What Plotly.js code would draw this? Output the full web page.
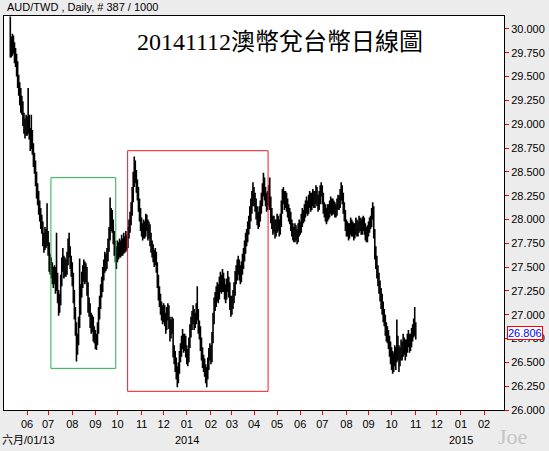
<!DOCTYPE html>
<html>
<head>
<meta charset="utf-8">
<script src="https://cdn.plot.ly/plotly-3.0.1.min.js"></script>
<style>
html,body{margin:0;padding:0;background:#ececec;}
#chart{width:549px;height:451px;}
</style>
</head>
<body>
<div id="chart"></div>
<script>
// ---- data (daily AUD/TWD) ----
const firstDate = '2013-05-10';
const openP = [
29.95,29.85,29.78,29.88,29.80,29.72,29.68,29.60,29.45,29.38,
29.30,29.22,29.18,29.05,28.98,28.92,29.02,28.95,29.05,28.90,
28.80,28.88,28.75,28.62,28.55,28.42,28.30,28.22,28.12,28.05,
27.98,27.92,27.80,27.72,27.85,27.78,27.82,27.70,27.58,27.52,
27.48,27.42,27.38,27.45,27.30,27.38,27.20,27.08,27.15,27.35,
27.50,27.55,27.45,27.52,27.48,27.58,27.70,27.65,27.55,27.48,
27.38,27.20,27.02,26.85,26.65,26.72,26.92,27.05,27.25,27.35,
27.42,27.50,27.40,27.45,27.28,27.10,27.05,26.95,26.88,26.92,
26.80,26.78,26.70,26.72,26.85,27.00,27.12,27.25,27.30,27.42,
27.50,27.58,27.55,27.62,27.72,27.85,27.95,28.05,27.95,27.82,
27.72,27.65,27.60,27.70,27.65,27.72,27.68,27.75,27.70,27.78,
27.72,27.80,27.75,27.85,27.92,28.00,28.10,28.25,28.40,28.55,
28.45,28.35,28.28,28.15,28.05,27.95,27.90,27.85,27.92,27.88,
27.98,27.95,27.85,27.90,27.80,27.72,27.68,27.62,27.58,27.62,
27.50,27.35,27.22,27.15,27.08,27.02,26.98,27.05,26.95,26.88,
27.00,27.05,26.92,26.80,26.88,26.90,26.60,26.55,26.48,26.40,
26.32,26.42,26.55,26.62,26.70,26.75,26.68,26.72,26.62,26.58,
26.55,26.70,26.82,26.90,26.95,27.00,26.92,26.95,27.05,27.00,
26.88,26.82,26.70,26.60,26.52,26.48,26.42,26.35,26.38,26.48,
26.58,26.62,26.55,26.75,26.95,27.10,27.15,27.20,27.25,27.22,
27.30,27.35,27.30,27.38,27.32,27.25,27.22,27.30,27.35,27.28,
27.15,27.08,27.12,27.18,27.25,27.38,27.42,27.48,27.52,27.45,
27.40,27.48,27.55,27.62,27.70,27.78,27.82,27.90,27.95,28.05,
28.12,28.20,28.28,28.22,28.15,28.08,28.02,27.98,28.05,28.12,
28.20,28.30,28.38,28.28,28.22,28.15,28.20,28.28,28.18,28.05,
27.98,27.92,27.95,27.88,27.92,27.98,27.95,27.90,27.98,28.12,
28.22,28.25,28.18,28.22,28.15,28.10,28.05,28.02,27.95,27.90,
27.85,27.82,27.88,27.85,27.80,27.88,27.92,27.90,27.98,28.05,
28.02,28.08,28.12,28.15,28.10,28.18,28.22,28.15,28.20,28.25,
28.18,28.22,28.28,28.20,28.15,28.22,28.30,28.32,28.22,28.12,
28.10,28.05,28.02,28.10,28.08,28.12,28.18,28.10,28.15,28.12,
28.08,28.10,28.15,28.20,28.18,28.25,28.32,28.22,28.12,28.05,
27.95,27.88,27.92,27.85,27.90,27.95,27.88,27.92,27.85,27.90,
27.95,27.88,27.92,27.98,27.95,27.90,27.95,27.98,27.90,27.85,
27.82,27.88,27.92,27.95,27.98,28.05,28.10,27.85,27.65,27.55,
27.45,27.38,27.30,27.22,27.15,27.08,27.00,26.95,26.85,26.80,
26.78,26.72,26.65,26.60,26.55,26.48,26.52,26.60,26.55,26.72,
26.62,26.52,26.58,26.65,26.62,26.70,26.68,26.62,26.65,26.72,
26.75,26.68,26.72,26.78,26.82,26.88,26.85
];
const highP = [
30.13,29.92,29.95,29.93,29.86,29.80,29.74,29.66,29.52,29.44,
29.38,29.30,29.24,29.12,29.06,29.10,29.08,29.38,29.10,28.96,
29.10,28.94,28.80,28.70,28.62,28.50,28.38,28.30,28.20,28.12,
28.05,27.98,27.86,27.92,27.90,28.17,27.88,27.76,27.64,27.60,
27.55,27.50,27.52,27.50,27.86,27.44,27.26,27.22,27.42,27.60,
27.70,27.62,27.60,27.58,27.66,27.80,27.86,27.72,27.62,27.55,
27.44,27.26,27.08,26.92,26.80,26.98,27.59,27.32,27.45,27.52,
27.58,27.56,27.54,27.50,27.34,27.18,27.12,27.02,27.00,26.98,
26.88,26.84,26.80,26.92,27.08,27.20,27.32,27.40,27.50,27.58,
27.66,27.64,27.70,27.80,27.92,28.23,28.12,28.10,28.00,27.88,
27.78,27.72,27.78,27.76,27.80,27.78,27.84,27.80,27.86,27.82,
27.88,27.84,27.92,28.00,28.08,28.18,28.34,28.50,28.66,28.62,
28.52,28.42,28.34,28.22,28.12,28.02,27.96,28.00,27.98,28.06,
28.05,28.00,27.98,27.95,27.86,27.78,27.74,27.68,27.70,27.66,
27.55,27.42,27.30,27.22,27.14,27.10,27.12,27.10,27.02,27.08,
27.12,27.10,26.98,26.95,26.98,26.96,26.68,26.62,26.55,26.46,
26.50,26.62,26.70,26.78,26.85,26.80,26.80,26.78,26.68,26.64,
26.76,26.90,26.98,27.04,27.10,27.06,27.02,27.12,27.30,27.06,
26.94,26.88,26.76,26.66,26.58,26.54,26.48,26.45,26.55,26.65,
26.70,26.68,26.82,27.02,27.18,27.24,27.30,27.34,27.32,27.40,
27.45,27.42,27.48,27.44,27.38,27.32,27.38,27.46,27.40,27.34,
27.20,27.20,27.26,27.34,27.46,27.52,27.58,27.62,27.58,27.52,
27.56,27.64,27.70,27.78,27.86,27.90,27.98,28.04,28.14,28.22,
28.30,28.39,28.34,28.28,28.22,28.14,28.08,28.14,28.20,28.28,
28.38,28.49,28.44,28.34,28.28,28.30,28.36,28.44,28.24,28.12,
28.04,28.04,28.00,28.00,28.06,28.04,28.00,28.06,28.20,28.32,
28.34,28.30,28.30,28.28,28.22,28.16,28.12,28.08,28.00,27.96,
27.92,27.96,27.94,27.90,27.96,28.00,27.98,28.06,28.12,28.10,
28.16,28.20,28.24,28.20,28.26,28.30,28.28,28.28,28.32,28.30,
28.30,28.36,28.34,28.26,28.30,28.36,28.39,28.36,28.28,28.18,
28.16,28.12,28.16,28.16,28.20,28.24,28.22,28.22,28.20,28.18,
28.16,28.22,28.26,28.25,28.32,28.39,28.36,28.28,28.18,28.10,
28.00,27.98,27.96,27.96,28.02,28.00,27.98,27.96,27.96,28.02,
28.00,27.98,28.04,28.02,28.00,28.02,28.04,28.02,27.96,27.92,
27.94,27.98,28.02,28.04,28.12,28.18,28.14,27.90,27.72,27.62,
27.52,27.44,27.36,27.28,27.22,27.14,27.06,27.00,26.92,26.88,
26.84,26.78,26.72,26.66,26.62,26.60,26.68,26.66,26.95,26.78,
26.68,26.66,26.74,26.72,26.80,26.76,26.74,26.74,26.80,26.84,
26.80,26.80,26.86,26.90,26.96,27.08,26.92
];
const lowP = [
29.70,29.70,29.72,29.74,29.64,29.60,29.50,29.38,29.30,29.20,
29.12,29.10,28.98,28.90,28.85,28.88,28.88,28.90,28.84,28.72,
28.74,28.68,28.55,28.48,28.35,28.22,28.15,28.05,27.98,27.90,
27.85,27.72,27.65,27.68,27.70,27.72,27.62,27.45,27.42,27.38,
27.32,27.28,27.32,27.22,27.25,27.12,26.99,27.02,27.10,27.30,
27.45,27.38,27.40,27.40,27.42,27.52,27.60,27.48,27.40,27.30,
27.12,26.95,26.78,26.51,26.58,26.68,26.86,27.00,27.18,27.28,
27.35,27.32,27.34,27.20,27.02,26.98,26.86,26.80,26.82,26.72,
26.70,26.64,26.63,26.68,26.80,26.95,27.06,27.18,27.24,27.36,
27.44,27.46,27.48,27.56,27.66,27.78,27.88,27.86,27.74,27.62,
27.55,27.48,27.55,27.58,27.60,27.60,27.62,27.62,27.64,27.65,
27.66,27.68,27.70,27.80,27.86,27.94,28.04,28.18,28.34,28.38,
28.28,28.20,28.08,27.98,27.88,27.82,27.78,27.80,27.80,27.82,
27.88,27.78,27.80,27.72,27.65,27.60,27.55,27.50,27.52,27.44,
27.28,27.15,27.08,27.00,26.94,26.90,26.92,26.88,26.80,26.84,
26.94,26.85,26.72,26.75,26.80,26.55,26.48,26.40,26.32,26.24,
26.28,26.38,26.50,26.56,26.64,26.60,26.62,26.55,26.48,26.46,
26.50,26.65,26.76,26.84,26.90,26.84,26.86,26.90,26.94,26.80,
26.74,26.62,26.52,26.44,26.40,26.35,26.28,26.24,26.32,26.42,
26.52,26.48,26.50,26.70,26.90,27.04,27.08,27.14,27.12,27.16,
27.24,27.22,27.24,27.24,27.16,27.12,27.16,27.24,27.18,27.05,
26.98,27.00,27.06,27.12,27.20,27.32,27.36,27.42,27.36,27.32,
27.34,27.42,27.48,27.56,27.64,27.72,27.76,27.84,27.90,27.98,
28.06,28.14,28.14,28.08,28.00,27.94,27.90,27.92,27.98,28.06,
28.14,28.24,28.20,28.14,28.08,28.10,28.14,28.10,27.96,27.90,
27.84,27.86,27.80,27.82,27.86,27.88,27.82,27.84,27.92,28.06,
28.16,28.10,28.12,28.08,28.02,27.98,27.95,27.88,27.82,27.78,
27.76,27.76,27.78,27.74,27.76,27.82,27.84,27.86,27.92,27.96,
27.98,28.02,28.06,28.04,28.06,28.12,28.08,28.10,28.14,28.12,
28.12,28.16,28.14,28.08,28.10,28.16,28.24,28.16,28.06,28.02,
27.98,27.95,27.98,28.00,28.02,28.06,28.04,28.05,28.06,28.02,
28.02,28.04,28.10,28.10,28.12,28.20,28.16,28.06,27.98,27.88,
27.82,27.82,27.78,27.80,27.84,27.82,27.82,27.78,27.80,27.84,
27.82,27.82,27.86,27.88,27.84,27.84,27.88,27.84,27.78,27.76,
27.76,27.82,27.86,27.90,27.92,28.00,27.80,27.58,27.48,27.38,
27.30,27.22,27.14,27.06,27.00,26.92,26.88,26.78,26.72,26.70,
26.64,26.56,26.48,26.42,26.38,26.40,26.46,26.42,26.50,26.52,
26.40,26.46,26.52,26.52,26.56,26.58,26.52,26.56,26.60,26.66,
26.60,26.62,26.66,26.72,26.76,26.78,26.74
];
const closeP = [
29.85,29.78,29.88,29.80,29.72,29.68,29.60,29.45,29.38,29.30,
29.22,29.18,29.05,28.98,28.92,29.02,28.95,29.05,28.90,28.80,
28.88,28.75,28.62,28.55,28.42,28.30,28.22,28.12,28.05,27.98,
27.92,27.80,27.72,27.85,27.78,27.82,27.70,27.58,27.52,27.48,
27.42,27.38,27.45,27.30,27.38,27.20,27.08,27.15,27.35,27.50,
27.55,27.45,27.52,27.48,27.58,27.70,27.65,27.55,27.48,27.38,
27.20,27.02,26.85,26.65,26.72,26.92,27.05,27.25,27.35,27.42,
27.50,27.40,27.45,27.28,27.10,27.05,26.95,26.88,26.92,26.80,
26.78,26.70,26.72,26.85,27.00,27.12,27.25,27.30,27.42,27.50,
27.58,27.55,27.62,27.72,27.85,27.95,28.05,27.95,27.82,27.72,
27.65,27.60,27.70,27.65,27.72,27.68,27.75,27.70,27.78,27.72,
27.80,27.75,27.85,27.92,28.00,28.10,28.25,28.40,28.55,28.45,
28.35,28.28,28.15,28.05,27.95,27.90,27.85,27.92,27.88,27.98,
27.95,27.85,27.90,27.80,27.72,27.68,27.62,27.58,27.62,27.50,
27.35,27.22,27.15,27.08,27.02,26.98,27.05,26.95,26.88,27.00,
27.05,26.92,26.80,26.88,26.90,26.60,26.55,26.48,26.40,26.32,
26.42,26.55,26.62,26.70,26.75,26.68,26.72,26.62,26.58,26.55,
26.70,26.82,26.90,26.95,27.00,26.92,26.95,27.05,27.00,26.88,
26.82,26.70,26.60,26.52,26.48,26.42,26.35,26.38,26.48,26.58,
26.62,26.55,26.75,26.95,27.10,27.15,27.20,27.25,27.22,27.30,
27.35,27.30,27.38,27.32,27.25,27.22,27.30,27.35,27.28,27.15,
27.08,27.12,27.18,27.25,27.38,27.42,27.48,27.52,27.45,27.40,
27.48,27.55,27.62,27.70,27.78,27.82,27.90,27.95,28.05,28.12,
28.20,28.28,28.22,28.15,28.08,28.02,27.98,28.05,28.12,28.20,
28.30,28.38,28.28,28.22,28.15,28.20,28.28,28.18,28.05,27.98,
27.92,27.95,27.88,27.92,27.98,27.95,27.90,27.98,28.12,28.22,
28.25,28.18,28.22,28.15,28.10,28.05,28.02,27.95,27.90,27.85,
27.82,27.88,27.85,27.80,27.88,27.92,27.90,27.98,28.05,28.02,
28.08,28.12,28.15,28.10,28.18,28.22,28.15,28.20,28.25,28.18,
28.22,28.28,28.20,28.15,28.22,28.30,28.32,28.22,28.12,28.10,
28.05,28.02,28.10,28.08,28.12,28.18,28.10,28.15,28.12,28.08,
28.10,28.15,28.20,28.18,28.25,28.32,28.22,28.12,28.05,27.95,
27.88,27.92,27.85,27.90,27.95,27.88,27.92,27.85,27.90,27.95,
27.88,27.92,27.98,27.95,27.90,27.95,27.98,27.90,27.85,27.82,
27.88,27.92,27.95,27.98,28.05,28.10,27.85,27.65,27.55,27.45,
27.38,27.30,27.22,27.15,27.08,27.00,26.95,26.85,26.80,26.78,
26.72,26.65,26.60,26.55,26.48,26.52,26.60,26.55,26.72,26.62,
26.52,26.58,26.65,26.62,26.70,26.68,26.62,26.65,26.72,26.75,
26.68,26.72,26.78,26.82,26.88,26.85,26.806
];
const monthTickDates = ['2013-06-03','2013-07-01','2013-08-01','2013-09-02','2013-10-01','2013-11-01','2013-12-02',
  '2014-01-01','2014-02-03','2014-03-03','2014-04-01','2014-05-01','2014-06-02','2014-07-01','2014-08-01',
  '2014-09-01','2014-10-01','2014-11-03','2014-12-01','2015-01-01','2015-02-02'];
const monthTickLabels = ['06','07','08','09','10','11','12','01','02','03','04','05','06','07','08','09','10','11','12','01','02'];
const headerText = 'AUD/TWD , Daily, # 387 / 1000';
const titleText = '20141112澳幣兌台幣日線圖';

// trading-day (weekday) calendar for the bars
function weekdays(start, n) {
  const out = [];
  const d = new Date(start + 'T00:00:00Z');
  while (out.length < n) {
    const w = d.getUTCDay();
    if (w !== 0 && w !== 6) out.push(d.toISOString().slice(0, 10));
    d.setUTCDate(d.getUTCDate() + 1);
  }
  return out;
}
const dates = weekdays(firstDate, closeP.length);
const lastClose = closeP[closeP.length - 1];

const trace = {
  type: 'ohlc',
  x: dates, open: openP, high: highP, low: lowP, close: closeP,
  increasing: {line: {color: '#000000', width: 1.6}},
  decreasing: {line: {color: '#000000', width: 1.6}},
  tickwidth: 0.6,
  hoverinfo: 'none',
  showlegend: false
};

const tickFont = {family: 'Liberation Sans, Arial, sans-serif', size: 11, color: '#000000'};

const layout = {
  width: 549, height: 451,
  paper_bgcolor: '#ececec', plot_bgcolor: '#ffffff',
  margin: {l: 4, r: 45, t: 16, b: 41, pad: 0},
  showlegend: false,
  title: {
    text: titleText,
    x: 280 / 549, xref: 'container', xanchor: 'center',
    y: 1 - 42 / 451, yref: 'container', yanchor: 'middle',
    font: {family: 'Liberation Serif, "Noto Sans CJK TC", serif', size: 24, color: '#000000'}
  },
  xaxis: {
    type: 'date',
    rangebreaks: [{bounds: ['sat', 'mon']}],
    range: ['2013-05-02', '2015-02-27'],
    rangeslider: {visible: false},
    tickmode: 'array', tickvals: monthTickDates, ticktext: monthTickLabels,
    ticks: 'outside', ticklen: 4, tickcolor: '#ff0000', tickwidth: 1,
    tickfont: tickFont,
    showline: true, linecolor: '#000000', linewidth: 1, mirror: true,
    showgrid: false, zeroline: false, fixedrange: true
  },
  yaxis: {
    side: 'right',
    range: [26.0, 30.136],
    tick0: 26, dtick: 0.25, tickformat: '.3f',
    ticks: 'outside', ticklen: 4, tickcolor: '#ff0000', tickwidth: 1,
    tickfont: tickFont,
    showline: true, linecolor: '#000000', linewidth: 1, mirror: true,
    showgrid: false, zeroline: false, fixedrange: true
  },
  shapes: [
    {type: 'rect', xref: 'x', yref: 'y', x0: '2013-07-03 16:00', x1: '2013-09-27 10:00', y0: 26.437, y1: 28.439,
     line: {color: '#22b14c', width: 1}, fillcolor: 'rgba(0,0,0,0)'},
    {type: 'rect', xref: 'x', yref: 'y', x0: '2013-10-14 17:00', x1: '2014-04-18 10:00', y0: 26.196, y1: 28.722,
     line: {color: '#ed1c24', width: 1}, fillcolor: 'rgba(0,0,0,0)'}
  ],
  annotations: [
    {text: headerText, xref: 'paper', yref: 'paper', x: 0.002, y: (410 - 7) / 394,
     xanchor: 'left', yanchor: 'middle', showarrow: false, font: tickFont},
    {text: '六月/01/13', xref: 'paper', yref: 'paper', x: -0.008, y: (410 - 440) / 394,
     xanchor: 'left', yanchor: 'middle', showarrow: false,
     font: {family: 'Liberation Sans, "Noto Sans CJK TC", sans-serif', size: 11, color: '#000000'}},
    {text: '2014', xref: 'x', yref: 'paper', x: '2014-01-01', y: (410 - 440) / 394,
     xanchor: 'center', yanchor: 'middle', showarrow: false, font: tickFont},
    {text: '2015', xref: 'x', yref: 'paper', x: '2015-01-01', y: (410 - 440) / 394,
     xanchor: 'center', yanchor: 'middle', showarrow: false, font: tickFont},
    {text: 'Joe', xref: 'paper', yref: 'paper', x: (512 - 4) / 500, y: (410 - 436) / 394,
     xanchor: 'center', yanchor: 'middle', showarrow: false,
     font: {family: 'Liberation Serif, serif', size: 22, color: '#c4c4c4'}},
    {text: lastClose.toFixed(3), xref: 'paper', yref: 'y', x: (507 - 4) / 500, y: lastClose,
     xanchor: 'left', yanchor: 'middle', showarrow: false,
     bgcolor: '#ffffff', bordercolor: '#ff0000', borderwidth: 1, borderpad: 0,
     font: {family: 'Liberation Sans, Arial, sans-serif', size: 11, color: '#0000ff'}}
  ]
};

Plotly.newPlot('chart', [trace], layout, {displayModeBar: false, staticPlot: true});
</script>
</body>
</html>
